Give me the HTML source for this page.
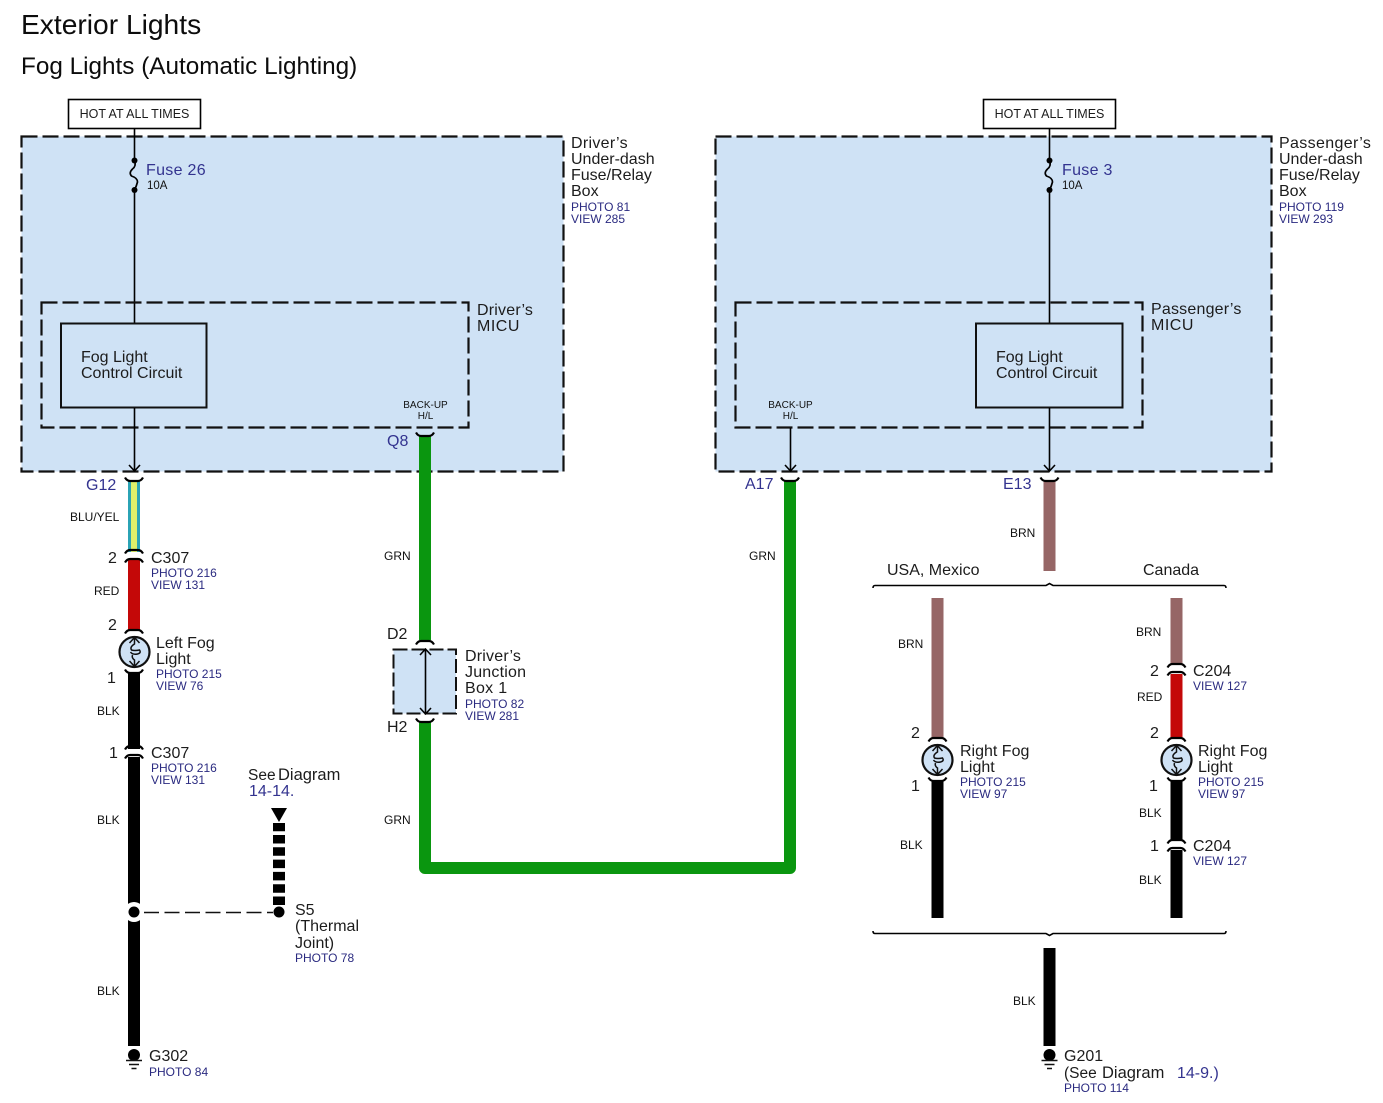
<!DOCTYPE html>
<html><head><meta charset="utf-8"><title>Exterior Lights</title>
<style>
html,body{margin:0;padding:0;background:#fff;width:1383px;height:1103px;overflow:hidden}
svg{display:block}
text{font-family:"Liberation Sans",sans-serif;fill:#1c1c1c;font-size:16px}
.b{fill:#33338f}
.s{fill:#2a2a80;font-size:12px}
.w{font-size:12px;fill:#111}
.t{font-size:10px;fill:#111}
.n{fill:none;stroke:#000;stroke-width:1.6}
.d{fill:#cfe2f5;stroke:#111;stroke-width:2.2;stroke-dasharray:16 5}
.dn{fill:none;stroke:#111;stroke-width:2.2;stroke-dasharray:16 5}
</style></head><body>
<svg width="1383" height="1103" viewBox="0 0 1383 1103" xmlns="http://www.w3.org/2000/svg">
<defs>
<path id="capT" d="M-9,-2.500 Q-7,1 -4,1 H4 Q7,1 9,-2.500" fill="none" stroke="#000" stroke-width="2.200"/>
<path id="capB" d="M-9,2.500 Q-7,-1 -4,-1 H4 Q7,-1 9,2.500" fill="none" stroke="#000" stroke-width="2.200"/>
<g id="bulb">
<circle r="15" fill="#cfe2f5" stroke="#111" stroke-width="2.200"/>
<path d="M0,-14 V-8 Q-5,-5 -3,-2 Q0,-1 5,-2 Q7,1 3,2 Q-2,3 -4,0 M-2,3 Q-3,6 0,8 V14 M-5,-9 L0,-14.500 L5,-9 M-5,9 L0,14.500 L5,9" fill="none" stroke="#111" stroke-width="1.500"/>
</g>
<g id="gnd">
<circle r="6" fill="#000"/>
<path d="M-8,5.500 H8 M-5,9.500 H5 M-2.500,13.500 H2.500" stroke="#111" stroke-width="1.500" fill="none"/>
</g>
<g id="fuse">
<circle cx="0" cy="-14.500" r="3" fill="#000"/><circle cx="0" cy="15" r="3" fill="#000"/>
<path d="M0,-14 Q2,-9 -2,-6 Q-6,-2 -3,1 Q3,3 3,7 Q2,11 0,15" fill="none" stroke="#000" stroke-width="1.700"/>
</g>
</defs>

<text x="21" y="34" style="font-size:28.200px;fill:#0c0c0c">Exterior Lights</text>
<text x="21" y="74" style="font-size:24.300px;fill:#0c0c0c">Fog Lights (Automatic Lighting)</text>

<!-- Main boxes -->
<rect x="21.500" y="136.500" width="542" height="335" class="d"/>
<rect x="715.500" y="136.500" width="556" height="335" class="d"/>

<!-- Hot at all times -->
<rect x="68.500" y="99.500" width="132" height="29" fill="#fff" stroke="#000" stroke-width="1.600"/>
<text x="134.500" y="118" text-anchor="middle" style="font-size:12.500px">HOT AT ALL TIMES</text>
<rect x="983.500" y="99.500" width="132" height="29" fill="#fff" stroke="#000" stroke-width="1.600"/>
<text x="1049.500" y="118" text-anchor="middle" style="font-size:12.500px">HOT AT ALL TIMES</text>

<!-- Supply lines -->
<path d="M134.500,129 V160 M134.500,190 V323" class="n"/>
<use href="#fuse" x="134.500" y="175"/>
<path d="M1049.500,129 V160 M1049.500,190 V323" class="n"/>
<use href="#fuse" x="1049.500" y="175"/>
<text x="146" y="175" class="b" style="letter-spacing:.3px">Fuse 26</text>
<text x="147" y="189" class="w" style="font-size:11.500px">10A</text>
<text x="1062" y="175" class="b" style="letter-spacing:.3px">Fuse 3</text>
<text x="1062" y="189" class="w" style="font-size:11.500px">10A</text>

<!-- MICU -->
<rect x="41.500" y="302.500" width="427" height="125" class="dn"/>
<rect x="735.500" y="302.500" width="407" height="125" class="dn"/>
<rect x="61" y="323.500" width="145.500" height="84" fill="#cfe2f5" stroke="#111" stroke-width="2"/>
<rect x="976" y="323.500" width="146.500" height="84" fill="#cfe2f5" stroke="#111" stroke-width="2"/>
<text x="81" y="362">Fog Light</text><text x="81" y="378">Control Circuit</text>
<text x="996" y="362">Fog Light</text><text x="996" y="378">Control Circuit</text>
<text x="477" y="315" style="letter-spacing:.2px">Driver’s</text><text x="477" y="331" style="letter-spacing:.5px">MICU</text>
<text x="1151" y="314" style="letter-spacing:.2px">Passenger’s</text><text x="1151" y="330" style="letter-spacing:.5px">MICU</text>
<text x="425.500" y="408" text-anchor="middle" class="t">BACK-UP</text>
<text x="425.500" y="419" text-anchor="middle" class="t">H/L</text>
<text x="790.500" y="408" text-anchor="middle" class="t">BACK-UP</text>
<text x="790.500" y="419" text-anchor="middle" class="t">H/L</text>

<!-- Box labels -->
<text x="571" y="148" style="letter-spacing:.3px">Driver’s</text><text x="571" y="164">Under-dash</text><text x="571" y="180">Fuse/Relay</text><text x="571" y="196">Box</text>
<text x="571" y="211" class="s">PHOTO 81</text><text x="571" y="223" class="s">VIEW 285</text>
<text x="1279" y="148" style="letter-spacing:.35px">Passenger’s</text><text x="1279" y="164">Under-dash</text><text x="1279" y="180">Fuse/Relay</text><text x="1279" y="196">Box</text>
<text x="1279" y="211" class="s">PHOTO 119</text><text x="1279" y="223" class="s">VIEW 293</text>

<!-- Internal arrows to terminals -->
<path d="M134.500,408 V471 M129,465 L134.500,471 L140,465" class="n"/>
<path d="M1049.500,408 V471 M1044,465 L1049.500,471 L1055,465" class="n"/>
<path d="M790.500,428 V471 M785,465 L790.500,471 L796,465" class="n"/>

<!-- Left wire -->
<rect x="128" y="481" width="12" height="71" fill="#2ba3b5"/>
<rect x="131" y="481" width="6" height="71" fill="#dff06a"/>
<rect x="128" y="560" width="12" height="71" fill="#c40808"/>
<rect x="128" y="672" width="12" height="77" fill="#000"/>
<rect x="128" y="757" width="12" height="289" fill="#000"/>
<use href="#capT" x="134" y="480"/>
<use href="#capB" x="134" y="551"/>
<use href="#capB" x="134" y="560"/>
<use href="#capB" x="134" y="631"/>
<use href="#capT" x="134" y="672"/>
<use href="#capB" x="134" y="747"/>
<use href="#capB" x="134" y="756"/>
<use href="#bulb" x="134.500" y="652"/>
<circle cx="134" cy="912" r="10" fill="#fff"/>
<circle cx="134" cy="912" r="5.500" fill="#000"/>
<path d="M144,912.500 H273" stroke="#111" stroke-width="1.600" stroke-dasharray="15 5.500" fill="none"/>
<circle cx="279" cy="912" r="5.500" fill="#000"/>
<path d="M279,905 V823" stroke="#000" stroke-width="12" stroke-dasharray="8.500 3.800" fill="none"/>
<path d="M271,808 H287 L279,822 Z" fill="#000"/>
<circle cx="134" cy="1055" r="9" fill="#fff"/>
<use href="#gnd" x="134" y="1055"/>

<text x="86" y="490" class="b">G12</text>
<text x="70" y="521" class="w">BLU/YEL</text>
<text x="108" y="563">2</text>
<text x="151" y="563">C307</text>
<text x="151" y="577" class="s">PHOTO 216</text><text x="151" y="589" class="s">VIEW 131</text>
<text x="94" y="595" class="w">RED</text>
<text x="108" y="630">2</text>
<text x="156" y="648">Left Fog</text><text x="156" y="664">Light</text>
<text x="156" y="678" class="s">PHOTO 215</text><text x="156" y="690" class="s">VIEW 76</text>
<text x="107" y="683">1</text>
<text x="97" y="715" class="w">BLK</text>
<text x="109" y="758">1</text>
<text x="151" y="758">C307</text>
<text x="151" y="772" class="s">PHOTO 216</text><text x="151" y="784" class="s">VIEW 131</text>
<text x="97" y="824" class="w">BLK</text>
<text x="97" y="995" class="w">BLK</text>
<text x="149" y="1061">G302</text>
<text x="149" y="1076" class="s">PHOTO 84</text>
<text x="248" y="780" style="font-size:15.500px">See</text><text x="278" y="780" style="font-size:16.500px">Diagram</text>
<text x="249" y="796" class="b">14-14.</text>
<text x="295" y="915">S5</text><text x="295" y="931">(Thermal</text><text x="295" y="948">Joint)</text>
<text x="295" y="962" class="s">PHOTO 78</text>

<!-- Green wire -->
<path d="M425,436 V640" stroke="#0a960f" stroke-width="12" fill="none"/>
<path d="M425,721 V868 H790 V480" stroke="#0a960f" stroke-width="12" fill="none" stroke-linejoin="round"/>
<use href="#capT" x="425" y="435"/>
<use href="#capB" x="425" y="642"/>
<use href="#capT" x="425" y="721"/>
<use href="#capT" x="790" y="480"/>
<rect x="393.500" y="649.500" width="62.500" height="64" fill="#cfe2f5" stroke="#111" stroke-width="2" stroke-dasharray="14 4"/>
<path d="M425.500,649 V714 M420,655 L425.500,649 L431,655 M420,708 L425.500,714 L431,708" class="n"/>
<text x="387" y="446" class="b">Q8</text>
<text x="384" y="560" class="w">GRN</text>
<text x="387" y="639">D2</text>
<text x="387" y="732">H2</text>
<text x="465" y="661" style="letter-spacing:.2px">Driver’s</text><text x="465" y="677" style="letter-spacing:.2px">Junction</text><text x="465" y="693" style="letter-spacing:.3px">Box 1</text>
<text x="465" y="708" class="s">PHOTO 82</text><text x="465" y="720" class="s">VIEW 281</text>
<text x="384" y="824" class="w">GRN</text>
<text x="745" y="489" class="b">A17</text>
<text x="749" y="560" class="w">GRN</text>

<!-- Right section -->
<rect x="1043.500" y="481" width="12" height="90" fill="#966666"/>
<use href="#capT" x="1049.500" y="480"/>
<text x="1003" y="489" class="b">E13</text>
<text x="1010" y="537" class="w">BRN</text>
<text x="887" y="575">USA, Mexico</text>
<text x="1143" y="575">Canada</text>
<path d="M873,588 Q873,585.500 875,585.500 H1046 L1049.500,583.500 L1053,585.500 H1224 Q1226,585.500 1226,588" class="n"/>

<rect x="931.500" y="598" width="12" height="140" fill="#966666"/>
<use href="#capB" x="937.500" y="739"/>
<use href="#bulb" x="937.500" y="760"/>
<rect x="931.500" y="780" width="12" height="138" fill="#000"/>
<use href="#capT" x="937.500" y="780"/>
<text x="898" y="648" class="w">BRN</text>
<text x="911" y="738">2</text>
<text x="911" y="791">1</text>
<text x="960" y="756">Right Fog</text><text x="960" y="772">Light</text>
<text x="960" y="786" class="s">PHOTO 215</text><text x="960" y="798" class="s">VIEW 97</text>
<text x="900" y="849" class="w">BLK</text>

<rect x="1170.500" y="598" width="12" height="67" fill="#966666"/>
<rect x="1170.500" y="674" width="12" height="64" fill="#c40808"/>
<rect x="1170.500" y="780" width="12" height="61" fill="#000"/>
<rect x="1170.500" y="850" width="12" height="68" fill="#000"/>
<use href="#capB" x="1176.500" y="665"/>
<use href="#capB" x="1176.500" y="673"/>
<use href="#capB" x="1176.500" y="739"/>
<use href="#bulb" x="1176.500" y="760"/>
<use href="#capT" x="1176.500" y="780"/>
<use href="#capB" x="1176.500" y="841"/>
<use href="#capB" x="1176.500" y="849"/>
<text x="1136" y="636" class="w">BRN</text>
<text x="1150" y="676">2</text>
<text x="1193" y="676">C204</text>
<text x="1193" y="690" class="s">VIEW 127</text>
<text x="1137" y="701" class="w">RED</text>
<text x="1150" y="738">2</text>
<text x="1149" y="791">1</text>
<text x="1198" y="756">Right Fog</text><text x="1198" y="772">Light</text>
<text x="1198" y="786" class="s">PHOTO 215</text><text x="1198" y="798" class="s">VIEW 97</text>
<text x="1139" y="817" class="w">BLK</text>
<text x="1150" y="851">1</text>
<text x="1193" y="851">C204</text>
<text x="1193" y="865" class="s">VIEW 127</text>
<text x="1139" y="884" class="w">BLK</text>

<path d="M873,931 Q873,933.500 875,933.500 H1046 L1049.500,935.500 L1053,933.500 H1224 Q1226,933.500 1226,931" class="n"/>
<rect x="1043.500" y="948" width="12" height="98" fill="#000"/>
<circle cx="1049.500" cy="1055" r="9" fill="#fff"/>
<use href="#gnd" x="1049.500" y="1055"/>
<text x="1013" y="1005" class="w">BLK</text>
<text x="1064" y="1061">G201</text>
<text x="1064" y="1078" style="font-size:15.500px">(See</text><text x="1102" y="1078" style="font-size:16.500px">Diagram</text>
<text x="1177" y="1078" class="b">14-9.)</text>
<text x="1064" y="1092" class="s">PHOTO 114</text>
</svg>
</body></html>
